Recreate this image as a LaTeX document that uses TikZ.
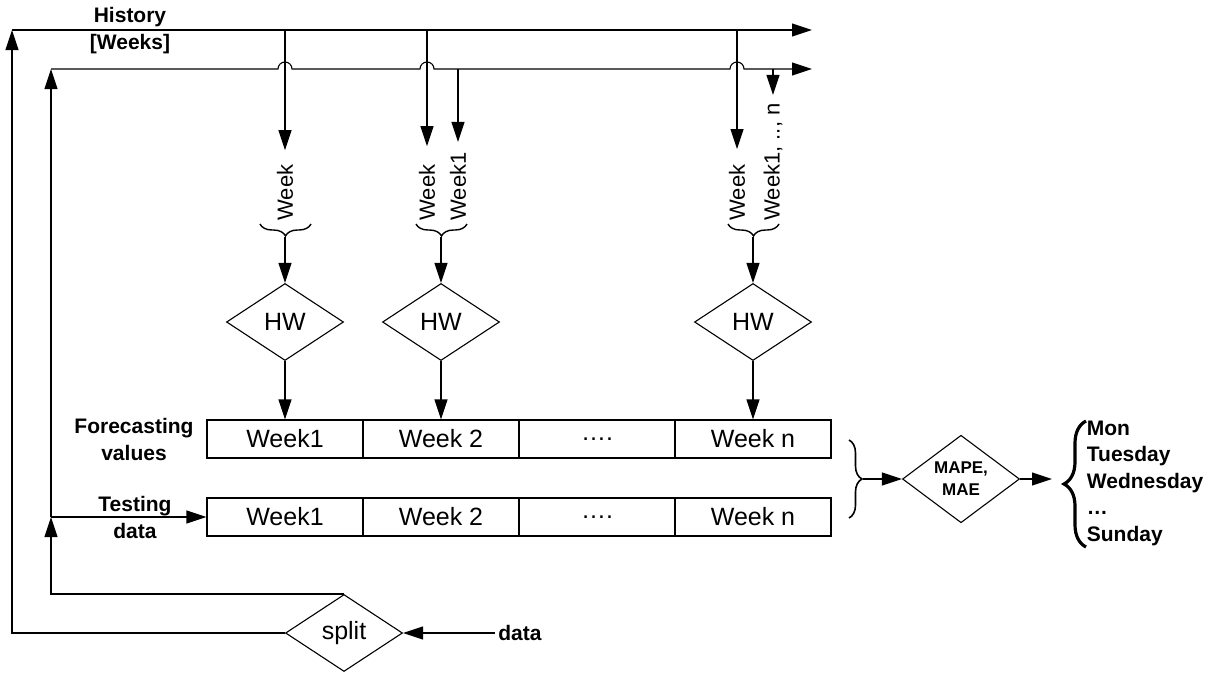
\documentclass[tikz,border=0pt]{standalone}
\usepackage{fontspec}
\setmainfont{Liberation Sans}
\usetikzlibrary{shapes.geometric,arrows.meta,decorations.pathreplacing}

\begin{document}
\begin{tikzpicture}[x=1pt,y=-1pt,line width=1.1pt,
  arr/.style={-{Triangle[length=20pt,width=13pt]}},
  cell/.style={draw,minimum width=156pt,minimum height=38pt,inner sep=0pt,font=\fontsize{25}{30}\selectfont},
  dia/.style={draw,diamond,minimum width=117pt,minimum height=77pt,inner sep=0pt,font=\fontsize{25}{30}\selectfont},
  lbl/.style={align=center,font=\fontsize{21}{27}\selectfont\bfseries},
  wk/.style={rotate=90,anchor=west,inner sep=0pt,font=\fontsize{22}{25}\selectfont},
  brc/.style={decorate,decoration={brace,amplitude=#1,aspect=0.5}}]
  \useasboundingbox (0,0) rectangle (1215,675);

  % week cells
  \foreach \t [count=\i] in {Week1,Week 2,….,Week n} {
    \node[cell] (f\i) at (129+156*\i,439) {\t};
    \node[cell] (t\i) at (129+156*\i,517) {\t};
  }

  \node[dia] (hw1) at (285,322) {HW};
  \node[dia] (hw2) at (441,322) {HW};
  \node[dia] (hw3) at (753,322) {HW};
  \node[dia] (split) at (344,633) {split};
  \node[dia,align=center,font=\fontsize{17}{22}\selectfont\bfseries] (mape) at (961,479) {MAPE,\\MAE};

  \node[lbl] (hist) at (130,31) {History\\{[Weeks]}};
  \node[lbl] (fcv) at (134,439) {Forecasting\\values};
  \node[lbl] (tst) at (135,517) {Testing\\data};
  \node[lbl] (data) at (520,633) {data};
  \node[lbl,align=left,anchor=west,font=\fontsize{21}{26.5}\selectfont\bfseries] (days) at (1083,483)
    {Mon\\Tuesday\\Wednesday\\…\\Sunday};

  % rotated inputs
  \node[wk] (w1) at (285,221) {Week};
  \node[wk] (w2) at (427,221) {Week};
  \node[wk] (w3) at (458,221) {Week1};
  \node[wk] (w4) at (737,221) {Week};
  \node[wk] (w5) at (773,221) {Week1, .., n};

  \coordinate (c1) at (12,30);
  \coordinate (c2) at (51,69);
  \coordinate (e1) at (812,30);
  \coordinate (e2) at (812,69);
  \coordinate (tj) at (51,517);
  \coordinate (h1) at (285,30);
  \coordinate (h2) at (427,30);
  \coordinate (h3) at (737,30);
  \coordinate (g1) at (458,69);
  \coordinate (g2) at (773,69);
  \coordinate (b1) at (285,237);
  \coordinate (b2) at (441,237);
  \coordinate (b3) at (753,237);
  \coordinate (br) at (863,479);
  \coordinate (dy) at (1052,479);

  % history lines
  \draw[arr] (split.west) -| (c1);
  \draw[arr] (c1) -- (e1);
  \draw[arr] (split.north) -| (tj);
  \draw[arr] (tj) -- (c2);
  \draw[arr] (c2) -- (278,69) arc (180:360:7) -- (420,69) arc (180:360:7)
    -- (730,69) arc (180:360:7) -- (e2);
  \draw[arr] (tj) -- (t1);
  \draw[arr] (data) -- (split);

  \draw[arr,shorten >=14pt] (h1) -- (w1.east);
  \draw[arr,shorten >=18pt] (h2) -- (w2.east);
  \draw[arr,shorten >=15pt] (h3) -- (w4.east);
  \draw[arr,shorten >=10pt] (g1) -- (w3.east);
  \draw[arr,shorten >=8pt] (g2) -- (w5.east);

  % braces
  \draw[brc=12pt,line width=1.4pt] (311,224) -- (260,224);
  \draw[brc=12pt,line width=1.4pt] (467,224) -- (416,224);
  \draw[brc=12pt,line width=1.4pt] (779,224) -- (728,224);
  \draw[brc=13pt,line width=1.6pt] (849,440) -- (849,518);
  \draw[brc=22pt,line width=3.2pt] (1086,547) -- (1086,421);

  \draw[arr] (b1) -- (hw1);
  \draw[arr] (b2) -- (hw2);
  \draw[arr] (b3) -- (hw3);
  \draw[arr] (hw1) -- (f1);
  \draw[arr] (hw2) -- (f2);
  \draw[arr] (hw3) -- (f4);
  \draw[arr] (br) -- (mape);
  \draw[arr] (mape) -- (dy);
\end{tikzpicture}
\end{document}
